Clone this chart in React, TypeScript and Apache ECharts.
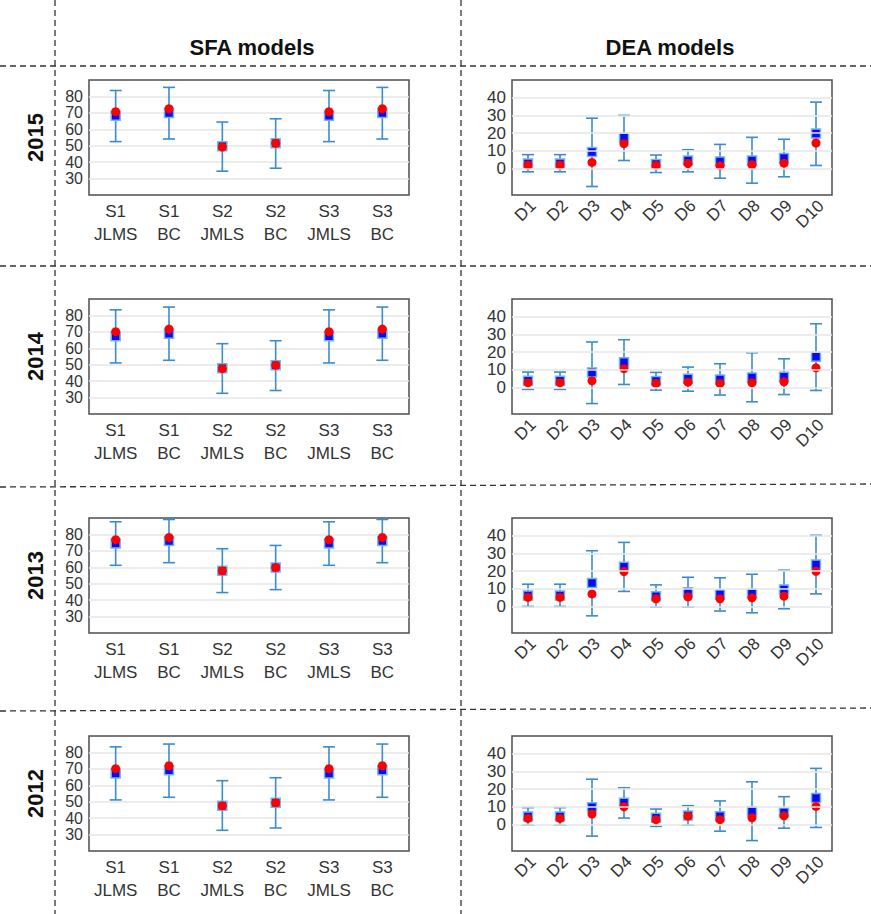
import React, { useEffect, useRef } from 'react';
import * as echarts from 'echarts';

const FONT = 'Liberation Sans';

const years = ['2015', '2014', '2013', '2012'];
const sfaCategories = ['S1\nJLMS', 'S1\nBC', 'S2\nJMLS', 'S2\nBC', 'S3\nJMLS', 'S3\nBC'];
const deaCategories = ['D1', 'D2', 'D3', 'D4', 'D5', 'D6', 'D7', 'D8', 'D9', 'D10'];
const sfaTicks = [30, 40, 50, 60, 70, 80];
const deaTicks = [0, 10, 20, 30, 40];

// SFA 2015
const sfa2015Square = [68.3, 69.9, 49.6, 51.5, 68.3, 69.9];
const sfa2015Circle = [70.7, 72.5, 49.2, 51.5, 70.7, 72.5];
const sfa2015Lower = [52.5, 54.1, 34.5, 36.3, 52.5, 54.1];
const sfa2015Upper = [83.6, 85.5, 64.4, 66.4, 83.6, 85.5];
// DEA 2015
const dea2015Square = [2.8, 2.8, 9.3, 17.3, 2.5, 4.5, 4.0, 4.5, 5.9, 19.7];
const dea2015Circle = [1.9, 1.9, 3.4, 14.0, 1.7, 2.8, 1.5, 2.1, 3.0, 14.4];
const dea2015Lower = [-1.9, -1.9, -10.2, 4.5, -2.3, -1.9, -5.5, -8.3, -4.7, 1.7];
const dea2015Upper = [7.8, 7.8, 28.4, 30.0, 7.6, 10.6, 13.6, 17.6, 16.5, 37.5];
// SFA 2014
const sfa2014Square = [67.4, 68.9, 47.8, 49.6, 67.4, 68.9];
const sfa2014Circle = [70.1, 71.7, 47.6, 49.6, 70.1, 71.7];
const sfa2014Lower = [51.1, 52.7, 32.6, 34.3, 51.1, 52.7];
const sfa2014Upper = [83.4, 85.1, 62.8, 64.6, 83.4, 85.1];
// DEA 2014
const dea2014Square = [3.8, 3.8, 8.5, 14.3, 3.6, 4.9, 4.5, 5.7, 6.0, 17.4];
const dea2014Circle = [2.6, 2.6, 3.8, 10.6, 2.3, 3.0, 2.3, 2.6, 3.2, 11.1];
const dea2014Lower = [-1.1, -1.1, -9.1, 1.7, -1.5, -2.1, -4.3, -8.1, -4.0, -1.7];
const dea2014Upper = [8.7, 8.7, 25.7, 27.0, 8.5, 11.5, 13.4, 19.6, 16.2, 36.0];
// SFA 2013
const sfa2013Square = [74.5, 76.0, 57.9, 59.8, 74.5, 76.0];
const sfa2013Circle = [76.8, 78.2, 57.9, 59.8, 76.8, 78.2];
const sfa2013Lower = [61.2, 62.8, 44.6, 46.4, 61.2, 62.8];
const sfa2013Upper = [87.7, 89.1, 71.3, 73.3, 87.7, 89.1];
// DEA 2013
const dea2013Square = [6.2, 6.2, 13.3, 22.5, 5.8, 8.1, 6.8, 7.3, 9.6, 23.7];
const dea2013Circle = [5.1, 5.1, 7.1, 19.7, 4.3, 5.4, 4.3, 4.9, 5.8, 19.9];
const dea2013Lower = [0.0, 0.0, -5.3, 8.5, -0.4, -0.4, -2.6, -3.6, -1.3, 7.1];
const dea2013Upper = [12.6, 12.6, 31.5, 36.2, 12.2, 16.5, 16.2, 18.2, 20.5, 40.2];
// SFA 2012
const sfa2012Square = [67.2, 69.1, 47.6, 49.4, 67.2, 69.1];
const sfa2012Circle = [70.1, 71.9, 47.6, 49.4, 70.1, 71.9];
const sfa2012Lower = [51.1, 52.7, 32.6, 34.0, 51.1, 52.7];
const sfa2012Upper = [83.4, 85.1, 62.8, 64.6, 83.4, 85.1];
// DEA 2012
const dea2012Square = [4.5, 4.5, 9.7, 12.3, 3.8, 5.1, 4.7, 7.4, 6.8, 15.0];
const dea2012Circle = [3.4, 3.4, 5.9, 10.0, 2.7, 4.7, 2.7, 3.8, 4.9, 10.2];
const dea2012Lower = [-0.4, -0.4, -6.6, 3.6, -1.1, -0.4, -3.8, -9.1, -2.1, -1.7];
const dea2012Upper = [9.5, 9.5, 25.6, 20.7, 8.7, 10.6, 13.3, 24.1, 15.7, 31.7];

const sfaPanels = [
  { square: sfa2015Square, circle: sfa2015Circle, lower: sfa2015Lower, upper: sfa2015Upper },
  { square: sfa2014Square, circle: sfa2014Circle, lower: sfa2014Lower, upper: sfa2014Upper },
  { square: sfa2013Square, circle: sfa2013Circle, lower: sfa2013Lower, upper: sfa2013Upper },
  { square: sfa2012Square, circle: sfa2012Circle, lower: sfa2012Lower, upper: sfa2012Upper },
];
const deaPanels = [
  { square: dea2015Square, circle: dea2015Circle, lower: dea2015Lower, upper: dea2015Upper },
  { square: dea2014Square, circle: dea2014Circle, lower: dea2014Lower, upper: dea2014Upper },
  { square: dea2013Square, circle: dea2013Circle, lower: dea2013Lower, upper: dea2013Upper },
  { square: dea2012Square, circle: dea2012Circle, lower: dea2012Lower, upper: dea2012Upper },
];

const ROW_TOPS = [80, 299, 518, 736];
const GRID_H = 115;
const GRID_W = 320;
const SFA_LEFT = 89;
const DEA_LEFT = 512;
const BAR_COLOR = '#3a8ccf';
const GRID_LINE = '#e6e6e6';

function buildOption() {
  const grid: any[] = [];
  const xAxis: any[] = [];
  const yAxis: any[] = [];
  const series: any[] = [];

  const addPanel = (isSfa: boolean, row: number, panel: any) => {
    const idx = grid.length;
    const cats = isSfa ? sfaCategories : deaCategories;
    grid.push({
      left: isSfa ? SFA_LEFT : DEA_LEFT,
      top: ROW_TOPS[row],
      width: GRID_W,
      height: GRID_H,
      show: true,
      backgroundColor: '#ffffff',
      borderColor: '#4d4d4d',
      borderWidth: 1.5,
    });
    xAxis.push({
      type: 'category',
      gridIndex: idx,
      data: cats,
      boundaryGap: true,
      axisLine: { show: false },
      axisTick: { show: false },
      splitLine: { show: false },
      axisLabel: isSfa
        ? { show: true, interval: 0, fontSize: 17, lineHeight: 23, color: '#333333', margin: 5, fontFamily: FONT }
        : {
            show: true,
            interval: 0,
            rotate: 45,
            fontSize: 17,
            lineHeight: 17,
            color: '#333333',
            margin: 13,
            padding: [0, -7, 0, 0],
            fontFamily: FONT,
          },
    });
    yAxis.push(
      isSfa
        ? {
            type: 'value',
            gridIndex: idx,
            min: 20,
            max: 90,
            interval: 10,
            axisLine: { show: false },
            axisTick: { show: false },
            splitLine: {
              show: true,
              showMinLine: false,
              showMaxLine: false,
              lineStyle: { color: GRID_LINE, width: 1.5 },
            },
            axisLabel: {
              show: true,
              fontSize: 16,
              lineHeight: 14,
              color: '#333333',
              margin: 6,
              fontFamily: FONT,
              formatter: (v: number) => (sfaTicks.indexOf(v) >= 0 ? String(v) : ''),
            },
          }
        : {
            type: 'value',
            gridIndex: idx,
            min: -15,
            max: 50,
            interval: 5,
            axisLine: { show: false },
            axisTick: { show: false },
            splitLine: { show: false },
            axisLabel: {
              show: true,
              fontSize: 17,
              lineHeight: 15,
              color: '#333333',
              margin: 6,
              fontFamily: FONT,
              formatter: (v: number) => (deaTicks.indexOf(v) >= 0 ? String(v) : ''),
            },
          }
    );
    if (!isSfa) {
      series.push({
        type: 'scatter',
        xAxisIndex: idx,
        yAxisIndex: idx,
        data: [],
        z: 1,
        silent: true,
        markLine: {
          silent: true,
          symbol: ['none', 'none'],
          label: { show: false },
          lineStyle: { color: GRID_LINE, width: 1.5, type: 'solid' },
          data: deaTicks.map((v) => ({ yAxis: v })),
        },
      });
    }
    series.push({
      type: 'custom',
      xAxisIndex: idx,
      yAxisIndex: idx,
      z: 2,
      silent: true,
      data: cats.map((_, i) => [i, panel.lower[i], panel.upper[i]]),
      encode: { x: 0, y: [1, 2] },
      renderItem: (params: any, api: any) => {
        const x = api.value(0);
        const pLo = api.coord([x, api.value(1)]);
        const pHi = api.coord([x, api.value(2)]);
        const hw = 6;
        const style = { stroke: BAR_COLOR, lineWidth: 1.6 };
        return {
          type: 'group',
          children: [
            { type: 'line', shape: { x1: pLo[0], y1: pLo[1], x2: pHi[0], y2: pHi[1] }, style },
            { type: 'line', shape: { x1: pHi[0] - hw, y1: pHi[1], x2: pHi[0] + hw, y2: pHi[1] }, style },
            { type: 'line', shape: { x1: pLo[0] - hw, y1: pLo[1], x2: pLo[0] + hw, y2: pLo[1] }, style },
          ],
        };
      },
    });
    series.push({
      type: 'scatter',
      xAxisIndex: idx,
      yAxisIndex: idx,
      z: 3,
      data: panel.square,
      symbol: 'rect',
      symbolSize: 9,
      itemStyle: { color: '#0a0af5', borderColor: '#74b3e8', borderWidth: 1.5, opacity: 1 },
    });
    series.push({
      type: 'scatter',
      xAxisIndex: idx,
      yAxisIndex: idx,
      z: 4,
      data: panel.circle,
      symbol: 'circle',
      symbolSize: 9,
      itemStyle: { color: '#ff0000', opacity: 1 },
    });
  };

  for (let r = 0; r < 4; r++) {
    addPanel(true, r, sfaPanels[r]);
    addPanel(false, r, deaPanels[r]);
  }

  const dash = { stroke: '#333', lineWidth: 1.3, lineDash: [6, 4] };
  const graphic: any[] = [
    { type: 'line', shape: { x1: 55, y1: 0, x2: 55, y2: 914 }, style: dash, silent: true },
    { type: 'line', shape: { x1: 461, y1: 0, x2: 461, y2: 914 }, style: dash, silent: true },
    { type: 'line', shape: { x1: 0, y1: 66, x2: 871, y2: 66 }, style: dash, silent: true },
    { type: 'line', shape: { x1: 0, y1: 266, x2: 871, y2: 266 }, style: dash, silent: true },
    { type: 'line', shape: { x1: 0, y1: 487, x2: 871, y2: 484 }, style: dash, silent: true },
    { type: 'line', shape: { x1: 0, y1: 711, x2: 871, y2: 708 }, style: dash, silent: true },
    {
      type: 'text',
      x: 252,
      y: 47,
      style: { text: 'SFA models', fontFamily: FONT, fontWeight: 'bold', fontSize: 22, fill: '#111', align: 'center', verticalAlign: 'middle' },
    },
    {
      type: 'text',
      x: 670,
      y: 47,
      style: { text: 'DEA models', fontFamily: FONT, fontWeight: 'bold', fontSize: 22, fill: '#111', align: 'center', verticalAlign: 'middle' },
    },
  ];
  years.forEach((y, r) => {
    graphic.push({
      type: 'text',
      x: 35,
      y: ROW_TOPS[r] + GRID_H / 2,
      rotation: Math.PI / 2,
      style: { text: y, fontFamily: FONT, fontWeight: 'bold', fontSize: 22, fill: '#111', align: 'center', verticalAlign: 'middle' },
    });
  });

  return {
    animation: false,
    backgroundColor: '#ffffff',
    grid,
    xAxis,
    yAxis,
    series,
    graphic,
  };
}

export default function App() {
  const ref = useRef<HTMLDivElement>(null);
  useEffect(() => {
    document.body.style.margin = '0';
    if (!ref.current) return;
    const chart = echarts.init(ref.current, undefined, { renderer: 'svg' });
    chart.setOption(buildOption() as any);
    return () => chart.dispose();
  }, []);
  return <div ref={ref} style={{ width: 871, height: 914 }} />;
}
